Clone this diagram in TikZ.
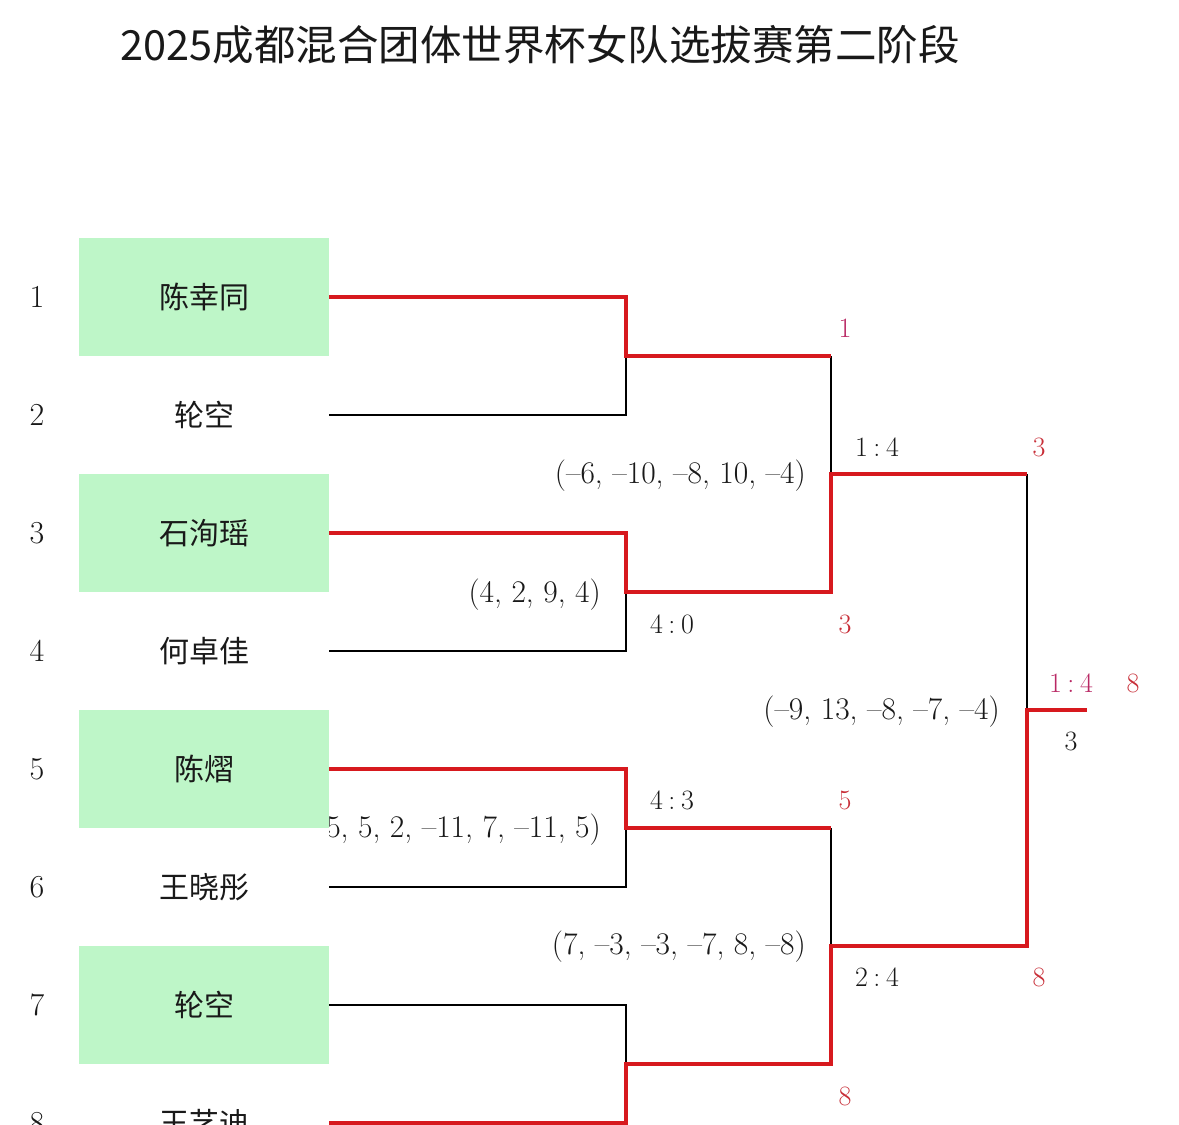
\documentclass[tikz,border=0pt]{standalone}
\usepackage{fontspec}
\newfontfamily\cjk{Noto Sans CJK SC}
\definecolor{boxgreen}{RGB}{190,246,200}
\definecolor{wred}{RGB}{215,25,30}
\definecolor{lred}{RGB}{200,45,55}
\definecolor{lmag}{RGB}{185,40,100}
\definecolor{ink}{RGB}{25,25,25}
\begin{document}
\begin{tikzpicture}[x=1pt,y=-1pt,
 namebox/.style={rectangle, minimum width=250pt, minimum height=118pt, inner sep=0pt, font=\cjk\fontsize{30}{36}\selectfont, text=ink},
 seedbox/.style={namebox, fill=boxgreen},
 rownum/.style={font=\fontsize{32}{38}\selectfont, text=ink, inner sep=0pt},
 games/.style={font=\fontsize{31.5}{36}\selectfont, text=ink, inner sep=0pt, anchor=east},
 score/.style={font=\fontsize{28}{32}\selectfont, text=ink, inner sep=0pt},
 seed/.style={font=\fontsize{28}{32}\selectfont, text=lred, inner sep=0pt},
 win/.style={draw=wred, line width=4.5pt},
 lose/.style={draw=black, line width=2pt},
]
\path[use as bounding box] (0,0) rectangle (1179,1125);
\clip (0,0) rectangle (1179,1125);
\fill[white] (0,0) rectangle (1179,1125);

% title
\node[font=\cjk\fontsize{41.5}{48}\selectfont, text=ink] (title) at (540,45) {2025成都混合团体世界杯女队选拔赛第二阶段};

% game lists
\node[games] (g1) at (806,476) {(–6, –10, –8, 10, –4)};
\node[games] (g2) at (601,595) {(4, 2, 9, 4)};
\begin{scope}
  \clip (329,790) rectangle (620,870);
  \node[games] (g3) at (601,830) {(–5, 5, 2, –11, 7, –11, 5)};
\end{scope}
\node[games] (g4) at (806,947) {(7, –3, –3, –7, 8, –8)};
\node[games] (g5) at (1000,712) {(–9, 13, –8, –7, –4)};

% names
\node[seedbox] (b1) at (204,297) {陈幸同};
\node[namebox] (b2) at (204,415) {轮空};
\node[seedbox] (b3) at (204,533) {石洵瑶};
\node[namebox] (b4) at (204,651) {何卓佳};
\node[seedbox] (b5) at (204,769) {陈熠};
\node[namebox] (b6) at (204,887) {王晓彤};
\node[seedbox] (b7) at (204,1005) {轮空};
\node[namebox] (b8) at (204,1123) {王艺迪};

% row numbers
\foreach \i [evaluate=\i as \yy using 297+118*(\i-1)] in {1,...,8}
  \node[rownum] (r\i) at (37,\yy) {\i};

% junctions
\coordinate (j12) at (626,356);
\coordinate (j34) at (626,592);
\coordinate (j56) at (626,828);
\coordinate (j78) at (626,1064);
\coordinate (k1) at (831,356);
\coordinate (k2) at (831,592);
\coordinate (k12) at (831,474);
\coordinate (k3) at (831,828);
\coordinate (k4) at (831,1064);
\coordinate (k34) at (831,946);
\coordinate (f1) at (1027,474);
\coordinate (f2) at (1027,946);
\coordinate (fm) at (1027,710);
\coordinate (fe) at (1087,710);

% losing lines
\path[lose] (b2.east) -| (j12);
\path[lose] (b4.east) -| (j34);
\path[lose] (b6.east) -| (j56);
\path[lose] (b7.east) -| (j78);
\path[lose] (k1) -- (k12);
\path[lose] (k3) -- (k34);
\path[lose] (f1) -- (fm);

% winning lines
\path[win] (b1.east) -| (j12) -- (k1);
\path[win] (b3.east) -| (j34) -- (k2) -- (k12) -- (f1);
\path[win] (b5.east) -| (j56) -- (k3);
\path[win] (b8.east) -| (j78) -- (k4) -- (k34) -- (f2) -- (fm) -- (fe);

% scores
\node[score] (s1) at (877,447) {1\hspace{0.2em}:\hspace{0.2em}4};
\node[score] (s2) at (672,624) {4\hspace{0.2em}:\hspace{0.2em}0};
\node[score] (s3) at (672,800) {4\hspace{0.2em}:\hspace{0.2em}3};
\node[score] (s4) at (877,977) {2\hspace{0.2em}:\hspace{0.2em}4};
\node[score, text=lmag] (s5) at (1071,683) {1\hspace{0.2em}:\hspace{0.2em}4};
\node[score] (s6) at (1071,741) {3};

% seed labels
\node[seed, text=lmag] (w1) at (845,328) {1};
\node[seed] (w2) at (845,624) {3};
\node[seed] (w3) at (845,800) {5};
\node[seed] (w4) at (845,1096) {8};
\node[seed] (w5) at (1039,447) {3};
\node[seed] (w6) at (1039,977) {8};
\node[seed] (w7) at (1133,683) {8};
\end{tikzpicture}
\end{document}
